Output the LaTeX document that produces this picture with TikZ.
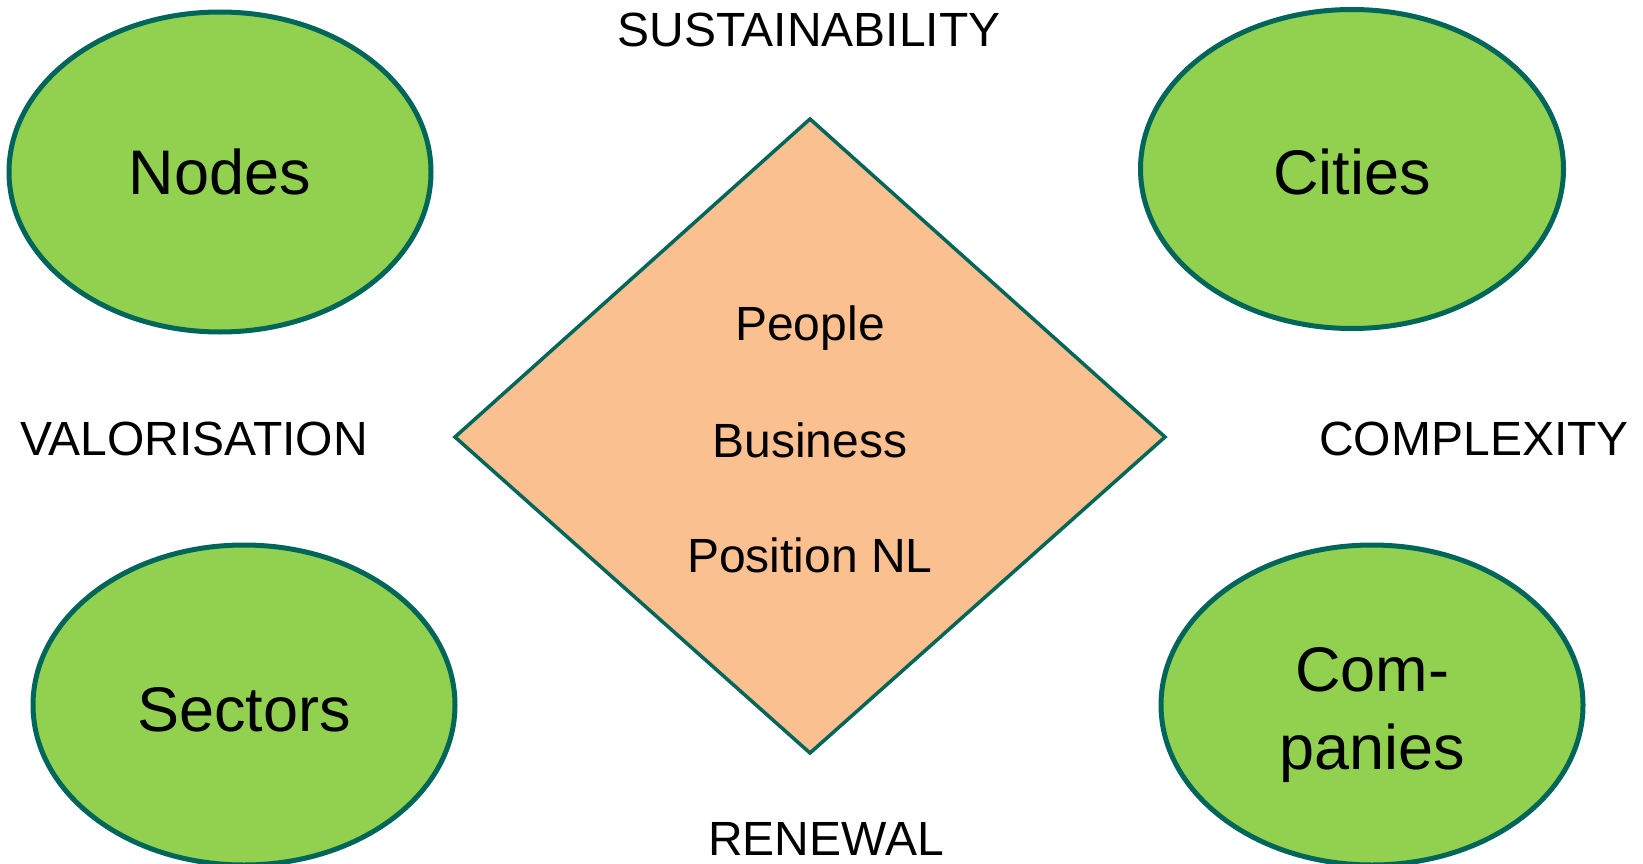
\documentclass[tikz,border=0pt]{standalone}
\usepackage{fontspec}
\setmainfont{Liberation Sans}
\usetikzlibrary{shapes.geometric}
\definecolor{leaf}{HTML}{92D050}
\definecolor{teal2}{HTML}{00665A}
\definecolor{peach}{HTML}{FAC090}
\newcommand{\lowerby}[2]{\raisebox{-#1}[\height][\depth]{#2}}
\tikzset{
  blob/.style={ellipse, draw=teal2, fill=leaf, line width=5pt, inner sep=0pt,
    font=\fontsize{63}{78}\selectfont, align=center},
  axis label/.style={font=\fontsize{48}{57}\selectfont, inner sep=0pt},
  inner label/.style={font=\fontsize{48}{57}\selectfont, inner sep=0pt},
  dia/.style={draw=teal2, fill=peach, line width=3.5pt, line join=miter}
}
\begin{document}
\begin{tikzpicture}[x=1pt,y=-1pt]
\useasboundingbox (0,0) rectangle (1643,864);
\node[blob, minimum width=422pt, minimum height=320pt] (nodes) at (220,172) {Nodes};
\node[blob, minimum width=423pt, minimum height=319pt] (cities) at (1352,169) {\lowerby{3pt}{Cities}};
\node[blob, minimum width=422pt, minimum height=320pt] (sectors) at (244,705) {\lowerby{5pt}{Sectors}};
\node[blob, minimum width=422pt, minimum height=320pt] (companies) at (1372,705) {\lowerby{10pt}{\begin{tabular}{@{}c@{}}Com-\\panies\end{tabular}}};
\coordinate (dt) at (810,119);
\coordinate (dr) at (1165,437);
\coordinate (db) at (810,753);
\coordinate (dl) at (455,437);
\draw[dia] (dt) -- (dr) -- (db) -- (dl) -- cycle;
\node[inner label] (people) at (810,328) {People};
\node[inner label] (business) at (810,440) {Business};
\node[inner label] (position) at (810,555) {Position NL};
\node[axis label] (sust) at (809,30) {SUSTAINABILITY};
\node[axis label] (valor) at (194,439) {VALORISATION};
\node[axis label] (compl) at (1474,439) {COMPLEXITY};
\node[axis label] (renew) at (826,839) {RENEWAL};
\end{tikzpicture}
\end{document}
